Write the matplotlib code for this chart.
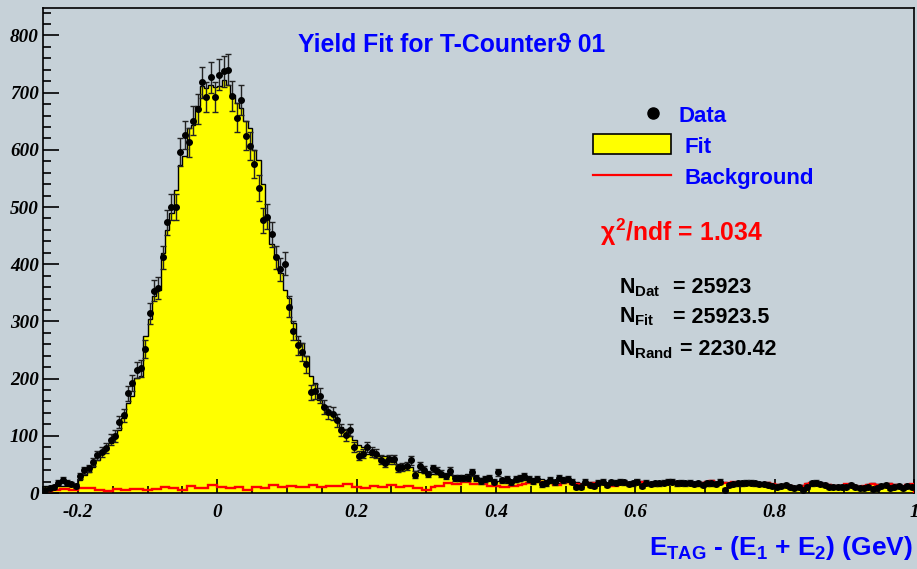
import numpy as np
import matplotlib
matplotlib.use("Agg")
import matplotlib.pyplot as plt
from matplotlib.ticker import MultipleLocator, FixedLocator
from matplotlib.patches import Rectangle
from matplotlib.lines import Line2D

plt.rcParams["mathtext.fontset"] = "custom"
plt.rcParams["mathtext.rm"] = "Liberation Sans:bold"
plt.rcParams["mathtext.it"] = "Liberation Sans:bold"
plt.rcParams["mathtext.bf"] = "Liberation Sans:bold"

# binning: 200 bins from -0.25 to 1.0 GeV
x_lo, x_hi, n_bins = -0.25, 1.0, 200

# data counts per bin
data = [
    6, 8, 11, 18, 23, 18, 16, 13, 29, 40, 43, 54, 66, 72, 78, 93, 100, 124, 136, 174,
    192, 215, 218, 252, 314, 354, 359, 412,
    473, 500, 500, 597, 626, 613, 651, 671, 718, 692, 727, 692, 731, 737, 740, 694,
    656, 687, 625, 607, 575, 533, 477, 483, 452,
    412, 391, 401, 326, 284, 258, 247, 225, 176, 178, 170, 150, 141, 139, 127, 110,
    101, 110, 81, 65, 69, 81,
    72, 69, 58, 52, 59, 59, 43, 45, 48, 57, 32, 47, 41, 33, 43, 39, 34, 29, 39, 26,
    27, 27, 26, 36, 26, 21, 24, 27, 20, 36, 22, 24, 19, 24, 26, 29, 25, 21, 25, 15,
    17, 23, 19, 27, 23, 24, 20, 11, 11, 20, 14, 13,
    18, 20, 14, 19, 18, 20, 19, 16, 17, 20,
    12, 18, 16, 17, 17, 18, 20, 20, 17, 18,
    17, 18, 16, 17, 14, 17, 17, 16, 20, 6,
    14, 16, 17, 17, 18, 18, 17, 16, 16, 14,
    13, 11, 13, 14, 11, 9, 10, 6, 11, 17,
    18, 16, 14, 11, 11, 10, 11, 11, 14, 11,
    8, 8, 11, 7, 8, 12, 14, 9, 10, 12,
    8, 13, 10,
]

# fit histogram (signal + background)
fit = [
    13, 13, 13, 13, 13, 13, 13, 13,
    23, 31, 37, 46, 58, 69, 75, 87, 99, 110, 131, 157, 169, 201, 204, 274, 305, 345, 355, 420,
    460, 489, 530, 574, 590, 638, 644, 676, 711, 708, 714, 710, 712, 722, 714, 696,
    682, 673, 651, 638, 600, 583, 540, 485, 435,
    414, 385, 355, 341, 297, 268, 262, 239, 204, 192, 163, 150, 145, 139, 125, 116,
    110, 100, 93, 84, 81, 69,
    66, 66, 65, 64, 60, 55, 50, 48, 47, 45, 38, 36, 35, 34, 34, 33, 31, 31, 31, 30,
    30, 30, 33, 30, 28,
    27, 26, 22, 22, 21, 19, 18, 20, 19, 21,
    22, 24, 25, 25, 24, 22, 22, 18, 18, 21,
    23, 19, 19, 17, 17, 20, 20, 18, 18, 16,
    14, 14, 18, 18, 19, 19, 21, 21, 17, 19,
    18, 16, 17, 19, 21, 21, 19, 18, 17, 19,
    17, 19, 21, 22, 19, 17, 19, 18, 20, 17,
    16, 18, 19, 16, 15, 17, 19, 16, 15, 13,
    15, 13, 11, 12, 14, 17, 19, 18, 17, 16,
    15, 14, 13, 14, 16, 15, 13, 12, 13, 15,
    17, 15, 13, 14, 17, 15, 13, 11, 15, 16,
]

# random (accidental) background
background = [
    4, 4, 5, 5, 7, 7, 5, 5, 9, 9,
    8, 8, 6, 6, 4, 4, 7, 7, 6, 6,
    7, 7, 7, 5, 5, 7, 7, 10, 10, 8,
    8, 6, 6, 12, 12, 8, 8, 8, 14, 14,
    10, 10, 8, 8, 10, 10, 6, 6, 10, 10,
    9, 9, 14, 14, 11, 11, 12, 12, 11, 11,
    10, 14, 14, 10, 10, 12, 12, 13, 13, 15,
    15, 11, 11, 8, 8, 12, 12, 10, 10, 14,
    14, 10, 10, 12, 12, 8, 8, 6, 6, 10,
    12, 12, 18, 18, 16, 16, 20, 20, 16, 16,
    16, 16, 12, 12, 12, 10, 10, 12, 12, 14,
    16, 18, 20, 20, 20, 18, 18, 14, 14, 18,
    20, 16, 16, 14, 14, 18, 18, 16, 16, 14,
    12, 12, 16, 16, 18, 18, 20, 20, 16, 18,
    17, 15, 16, 18, 20, 20, 18, 17, 16, 18,
    16, 18, 20, 21, 18, 16, 18, 17, 19, 16,
    15, 17, 18, 15, 14, 16, 18, 15, 14, 12,
    14, 12, 10, 11, 13, 16, 18, 17, 16, 15,
    14, 13, 12, 13, 15, 14, 12, 11, 12, 14,
    16, 14, 12, 13, 16, 14, 12, 10, 14, 15,
]

x_ticks = [-0.2, 0, 0.2, 0.4, 0.6, 0.8, 1.0]
x_ticklabels = ["-0.2", "0", "0.2", "0.4", "0.6", "0.8", "1"]

edges = np.linspace(x_lo, x_hi, n_bins + 1)
centers = 0.5 * (edges[:-1] + edges[1:])
data = np.array(data, dtype=float)
errors = np.sqrt(data)

W, H = 917, 569
bg_col = "#c6d1d8"
sans = ["Liberation Sans", "DejaVu Sans"]


def px(x, y):
    return x / W, 1 - y / H


fig = plt.figure(figsize=(W / 100, H / 100), dpi=100, facecolor=bg_col)
ax = fig.add_axes([43 / W, 1 - 493 / H, 871 / W, 485 / H])
ax.set_facecolor(bg_col)

ax.stairs(fit, edges, fill=True, color="#ffff00", zorder=1)
ax.stairs(fit, edges, color="black", lw=1.0, zorder=2)
ax.stairs(background, edges, color="#ff0000", lw=1.7, zorder=3)
ax.errorbar(centers, data, yerr=errors, fmt="o", ms=4, color="black",
            ecolor="#222222", elinewidth=1, capsize=2.5, capthick=1, zorder=4)

ax.set_xlim(x_lo, x_hi)
ax.set_ylim(0, 848)
ax.xaxis.set_major_locator(FixedLocator(x_ticks))
ax.set_xticklabels(x_ticklabels)
ax.xaxis.set_minor_locator(MultipleLocator(0.05))
ax.yaxis.set_major_locator(MultipleLocator(100))
ax.yaxis.set_minor_locator(MultipleLocator(20))
ax.tick_params(axis="x", which="major", direction="in", length=10, width=1.2, pad=8)
ax.tick_params(axis="x", which="minor", direction="in", length=5, width=1.2)
ax.tick_params(axis="y", which="major", direction="in", length=11.5, width=1.2, pad=3)
ax.tick_params(axis="y", which="minor", direction="in", length=5.8, width=1.2)
for lbl in ax.get_xticklabels() + ax.get_yticklabels():
    lbl.set_fontfamily("Liberation Serif")
    lbl.set_fontweight("bold")
    lbl.set_fontstyle("italic")
    lbl.set_fontsize(13.8)
for sp in ax.spines.values():
    sp.set_linewidth(1.2)

# title
fig.text(*px(452, 45), "Yield Fit for T-Counter\u03d1 01", color="#0000ff",
         fontsize=17.8, fontweight="bold", family=sans, ha="center", va="center")

# legend
fig.add_artist(Line2D([653 / W], [1 - 113 / H], marker="o", ms=8, color="black",
                      transform=fig.transFigure))
fig.add_artist(Rectangle(px(593, 154), 78 / W, 20 / H, transform=fig.transFigure,
                         facecolor="#ffff00", edgecolor="black", lw=1.2))
fig.add_artist(Line2D([593 / W, 671 / W], [1 - 175 / H] * 2, color="#ff0000", lw=1.6,
                      transform=fig.transFigure))
for label, y in [("Data", 121.7), ("Fit", 153.3), ("Background", 184)]:
    x = 679 if label == "Data" else 684
    fig.text(*px(x, y), label, color="#0000ff", fontsize=16, fontweight="bold",
             family=sans, ha="left", va="baseline")

fig.text(*px(600, 240.7), r"$\chi^{2}$/ndf = 1.034", color="#ff0000", fontsize=17.8,
         fontweight="bold", family=sans, ha="left", va="baseline")

# event counts
counts = [(r"$N_{Dat}$", "= 25923", 293.3, 673),
          (r"$N_{Fit}$", "= 25923.5", 322.7, 673),
          (r"$N_{Rand}$", "= 2230.42", 355, 680)]
for name, val, y, xe in counts:
    fig.text(*px(619, y), name, color="black", fontsize=15.5, fontweight="bold",
             family=sans, ha="left", va="baseline")
    fig.text(*px(xe, y), val, color="black", fontsize=15.5, fontweight="bold",
             family=sans, ha="left", va="baseline")

# axis title
fig.text(*px(913, 555), r"$E_{TAG}$ - ($E_{1}$ + $E_{2}$) (GeV)", color="#0000ff",
         fontsize=19, fontweight="bold", family=sans, ha="right", va="baseline")

fig.savefig("out.png", dpi=100, facecolor=bg_col)
